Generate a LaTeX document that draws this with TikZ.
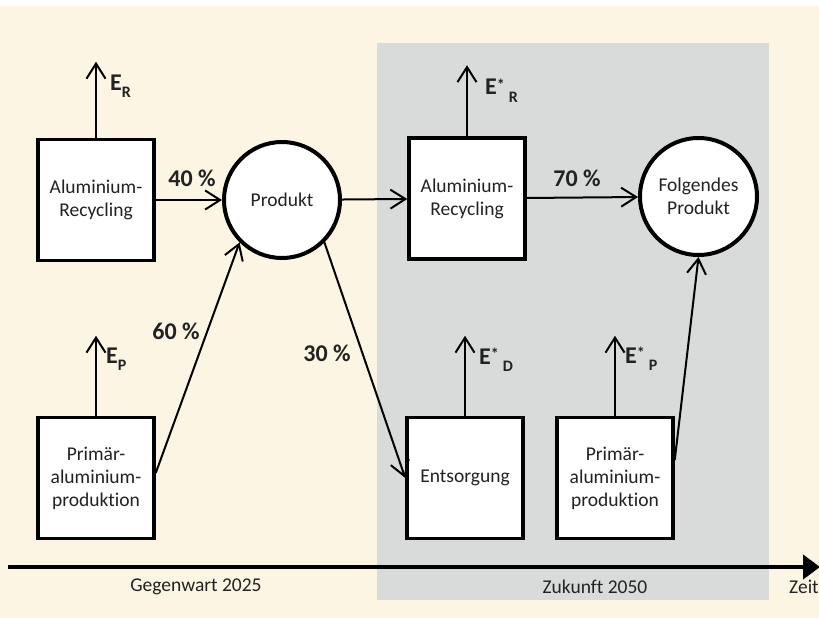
\documentclass[tikz,border=0pt]{standalone}
\usepackage{fontspec}
\setmainfont{Carlito}[Ligatures={NoCommon}]
\usepackage{tikz}
\usetikzlibrary{positioning,arrows.meta,calc}
\definecolor{cream}{RGB}{253,245,227}
\definecolor{future}{RGB}{217,219,218}
\definecolor{ink}{RGB}{34,34,34}
\newcommand{\esub}[1]{\raisebox{-7pt}{\fontsize{16}{16}\selectfont #1}}
\newcommand{\estar}{\raisebox{5pt}{\fontsize{16}{16}\selectfont *}}
\tikzset{
  proc/.style={draw,line width=3.5pt,fill=white,align=center,minimum width=116pt,minimum height=121pt,inner sep=2pt,font=\fontsize{19.5}{23}\selectfont,text=ink},
  prod/.style={proc,circle,minimum size=116pt,line width=4pt},
  pct/.style={font=\fontsize{24}{28}\selectfont\bfseries,text=ink},
  elab/.style={font=\fontsize{24}{28}\selectfont\bfseries,text=ink,anchor=base west,inner sep=0pt},
  tlab/.style={font=\fontsize{19.5}{23}\selectfont,text=ink},
  ar/.style={-{Straight Barb[length=15pt,width=19pt]},line width=2pt},
  tl/.style={-{Triangle[length=17pt,width=24pt]},line width=4.5pt},
}

\begin{document}
\begin{tikzpicture}[x=1pt,y=-1pt]
  \useasboundingbox (0,0) rectangle (819,618);
  \fill[white] (0,0) rectangle (819,618);
  \fill[cream] (0,6) rectangle (819,618);
  \fill[future] (377,43) rectangle (769,600);

  % today
  \node[proc] (rec1) at (96,200) {Aluminium-\\Recycling};
  \node[proc] (prim1) at (96,478) {Primär-\\aluminium-\\produktion};
  \node[prod] (prod1) at (282,200) {Produkt};

  % future
  \node[proc] (rec2) at (467,198.5) {Aluminium-\\Recycling};
  \node[proc] (ent) at (465,478) {Entsorgung};
  \node[proc] (prim2) at (615,478) {Primär-\\aluminium-\\produktion};
  \node[prod,minimum size=117pt] (next) at (698.5,196.5) {Folgendes\\Produkt};

  % energy outputs
  \coordinate (er1) at ($(rec1.north)+(0,-76)$);
  \coordinate (ep1) at ($(prim1.north)+(0,-80)$);
  \coordinate (er2) at ($(rec2.north)+(0,-71)$);
  \coordinate (ed2) at ($(ent.north)+(0,-80)$);
  \coordinate (ep2) at ($(prim2.north)+(0,-80)$);
  \draw[ar] (rec1.north) -- (er1);
  \draw[ar] (prim1.north) -- (ep1);
  \draw[ar] (rec2.north) -- (er2);
  \draw[ar] (ent.north) -- (ed2);
  \draw[ar] (prim2.north) -- (ep2);
  \node[elab] (ler1) at (110,90) {E\esub{R}};
  \node[elab] (lep1) at (106,363) {E\esub{P}};
  \node[elab] (ler2) at (485,95) {E\estar\,\esub{R}};
  \node[elab] (led2) at (479,364) {E\estar\,\esub{D}};
  \node[elab] (lep2) at (625,363) {E\estar\,\esub{P}};

  % flows
  \draw[ar] (rec1) -- (prod1);
  \draw[ar] ([yshift=5pt]prim1.east) -- (prod1.225);
  \draw[ar] (prod1) -- (rec2);
  \draw[ar] (prod1.-45) -- (ent.west);
  \draw[ar] (rec2) -- (next);
  \draw[ar] ([yshift=18pt]prim2.east) -- (next.south);
  \node[pct] (p40) at (192,178) {40 \%};
  \node[pct] (p60) at (176,331) {60 \%};
  \node[pct] (p30) at (327,353) {30 \%};
  \node[pct] (p70) at (577,178) {70 \%};

  % time axis
  \coordinate (tstart) at (8,567);
  \coordinate (tend) at (820,567);
  \draw[tl] (tstart) -- (tend);
  \node[tlab] (now) at (196,587) {Gegenwart 2025};
  \node[tlab] (fut) at (595,587) {Zukunft 2050};
  \node[tlab] (zeit) at (804,587) {Zeit};
\end{tikzpicture}
\end{document}
